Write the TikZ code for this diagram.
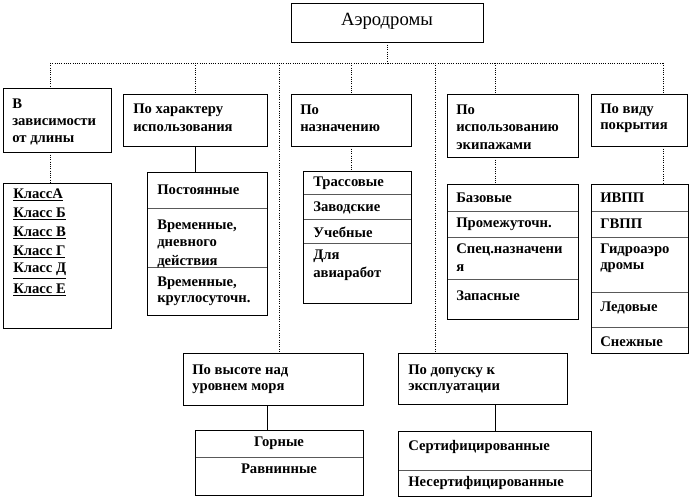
\documentclass[tikz,border=0pt]{standalone}
\usepackage{fontspec}
\setmainfont{Liberation Serif}
\usetikzlibrary{fit}
\newcommand\bx[6]{\node[#1, fit={(#3,#4) (#5,#6)}] (#2) {};}
\begin{document}
\begin{tikzpicture}[x=0.75pt,y=-0.75pt,
  box/.style={draw=black, line width=0.7pt, inner sep=0pt},
  cell/.style={draw=black!65, line width=0.7pt, inner sep=0pt},
  lbl/.style={anchor=west, inner sep=0pt, font=\bfseries\fontsize{11}{13}\selectfont},
  clbl/.style={anchor=center, inner sep=0pt, font=\bfseries\fontsize{11}{13}\selectfont},
  bus/.style={densely dotted, line width=0.7pt},
  stem/.style={line width=0.7pt}]
\useasboundingbox (0,0) rectangle (690,498);
% top box
\bx{box}{top}{291}{3}{483}{42}
\node[anchor=center, inner sep=0pt, font=\fontsize{14}{16}\selectfont] (ttop) at (387,21) {Аэродромы};
% second level boxes
\bx{box}{b1}{3}{88}{111}{152}
\bx{box}{b2}{123}{94}{267}{146}
\bx{box}{b3}{291}{94}{411}{146}
\bx{box}{b4}{447}{94}{578}{157}
\bx{box}{b5}{591}{94}{687}{146}
\node[lbl] (t1a) at (12,104) {В};
\node[lbl] (t1b) at (12,122) {зависимости};
\node[lbl] (t1c) at (12,140) {от длины};
\node[lbl] (t2a) at (133,110) {По характеру};
\node[lbl] (t2b) at (133,128) {использования};
\node[lbl] (t3a) at (300,110) {По};
\node[lbl] (t3b) at (300,128) {назначению};
\node[lbl] (t4a) at (456,110) {По};
\node[lbl] (t4b) at (456,128) {использованию};
\node[lbl] (t4c) at (456,146) {экипажами};
\node[lbl] (t5a) at (600,110) {По виду};
\node[lbl] (t5b) at (600,128) {покрытия};
% list 1
\bx{box}{L1}{3}{183}{111}{328}
\node[lbl] (k1) at (13,195) {\underline{КлассА}};
\node[lbl] (k2) at (13,214) {\underline{Класс Б}};
\node[lbl] (k3) at (13,233) {\underline{Класс В}};
\node[lbl] (k4) at (13,252) {\underline{Класс Г}};
\node[lbl] (k5) at (13,271) {\underline{Класс Д}};
\node[lbl] (k6) at (13,290) {\underline{Класс Е}};
% list 2
\bx{cell}{c21}{147}{172}{267}{208}
\bx{cell}{c22}{147}{208}{267}{267}
\bx{cell}{c23}{147}{267}{267}{315}
\bx{box}{L2}{147}{172}{267}{315}
\node[lbl] (s21) at (157,190) {Постоянные};
\node[lbl] (s22) at (157,226) {Временные,};
\node[lbl] (s23) at (157,244) {дневного};
\node[lbl] (s24) at (157,262) {действия};
\node[lbl] (s25) at (157,283) {Временные,};
\node[lbl] (s26) at (157,301) {круглосуточн.};
% list 3
\bx{cell}{c31}{303}{171}{411}{194}
\bx{cell}{c32}{303}{194}{411}{219}
\bx{cell}{c33}{303}{219}{411}{243}
\bx{cell}{c34}{303}{243}{411}{303}
\bx{box}{L3}{303}{171}{411}{303}
\node[lbl] (s31) at (313,183) {Трассовые};
\node[lbl] (s32) at (313,208) {Заводские};
\node[lbl] (s33) at (313,232) {Учебные};
\node[lbl] (s34) at (313,256) {Для};
\node[lbl] (s35) at (313,274) {авиаработ};
% list 4
\bx{cell}{c41}{447}{184}{578}{211}
\bx{cell}{c42}{447}{211}{578}{237}
\bx{cell}{c43}{447}{237}{578}{279}
\bx{cell}{c44}{447}{279}{578}{319}
\bx{box}{L4}{447}{184}{578}{319}
\node[lbl] (s41) at (456,198) {Базовые};
\node[lbl] (s42) at (456,224) {Промежуточн.};
\node[lbl] (s43) at (456,250) {Спец.назначени};
\node[lbl] (s44) at (456,268) {я};
\node[lbl] (s45) at (456,296) {Запасные};
% list 5
\bx{cell}{c51}{591}{184}{688}{211}
\bx{cell}{c52}{591}{211}{688}{237}
\bx{cell}{c53}{591}{237}{688}{292}
\bx{cell}{c54}{591}{292}{688}{327}
\bx{cell}{c55}{591}{327}{688}{353}
\bx{box}{L5}{591}{184}{688}{353}
\node[lbl] (s51) at (600,198) {ИВПП};
\node[lbl] (s52) at (600,224) {ГВПП};
\node[lbl] (s53) at (600,250) {Гидроаэро};
\node[lbl] (s54) at (600,268) {дромы};
\node[lbl] (s55) at (600,308) {Ледовые};
\node[lbl] (s56) at (600,342) {Снежные};
% lower boxes
\bx{box}{lA}{183}{353}{363}{405}
\bx{box}{lB}{398}{353}{567}{404}
\node[lbl] (tAa) at (192,371) {По высоте над};
\node[lbl] (tAb) at (192,389) {уровнем моря};
\node[lbl] (tBa) at (408,371) {По допуску к};
\node[lbl] (tBb) at (408,389) {эксплуатации};
\bx{cell}{cA1}{195}{430}{363}{457}
\bx{cell}{cA2}{195}{457}{363}{495}
\bx{box}{mA}{195}{430}{363}{495}
\node[clbl] (sA1) at (279,443) {Горные};
\node[clbl] (sA2) at (279,469) {Равнинные};
\bx{cell}{cB1}{398}{431}{591}{470}
\bx{cell}{cB2}{398}{470}{591}{496}
\bx{box}{mB}{398}{431}{591}{496}
\node[lbl] (sB1) at (408,447) {Сертифицированные};
\node[lbl] (sB2) at (408,483) {Несертифицированные};
% connectors
\coordinate (busL) at (50,63);
\coordinate (busR) at (663,63);
\coordinate (jA) at (279,63);
\coordinate (jB) at (435,63);
\coordinate (j4) at (495,63);
\coordinate (sA) at (267,430);
\draw[bus] (top.south) -- (top.south |- busL);
\draw[bus] (busL) -- (busR);
\draw[bus] (busL) -- (busL |- b1.north);
\draw[bus] (b2.north |- busL) -- (b2.north);
\draw[bus] (jA) -- (jA |- lA.north);
\draw[bus] (b3.north |- busL) -- (b3.north);
\draw[bus] (jB) -- (jB |- lB.north);
\draw[bus] (j4) -- (j4 |- b4.north);
\draw[bus] (busR) -- (busR |- b5.north);
\draw[bus] (busL |- b1.south) -- (busL |- L1.north);
\draw[stem] (b2.south) -- (b2.south |- L2.north);
\draw[bus] (b3.south) -- (b3.south |- L3.north);
\draw[bus] (j4 |- b4.south) -- (j4 |- L4.north);
\draw[bus] (busR |- b5.south) -- (busR |- L5.north);
\draw[stem] (lA.south -| sA) -- (sA);
\draw[stem] (lB.south -| j4) -- (j4 |- mB.north);
\end{tikzpicture}
\end{document}
